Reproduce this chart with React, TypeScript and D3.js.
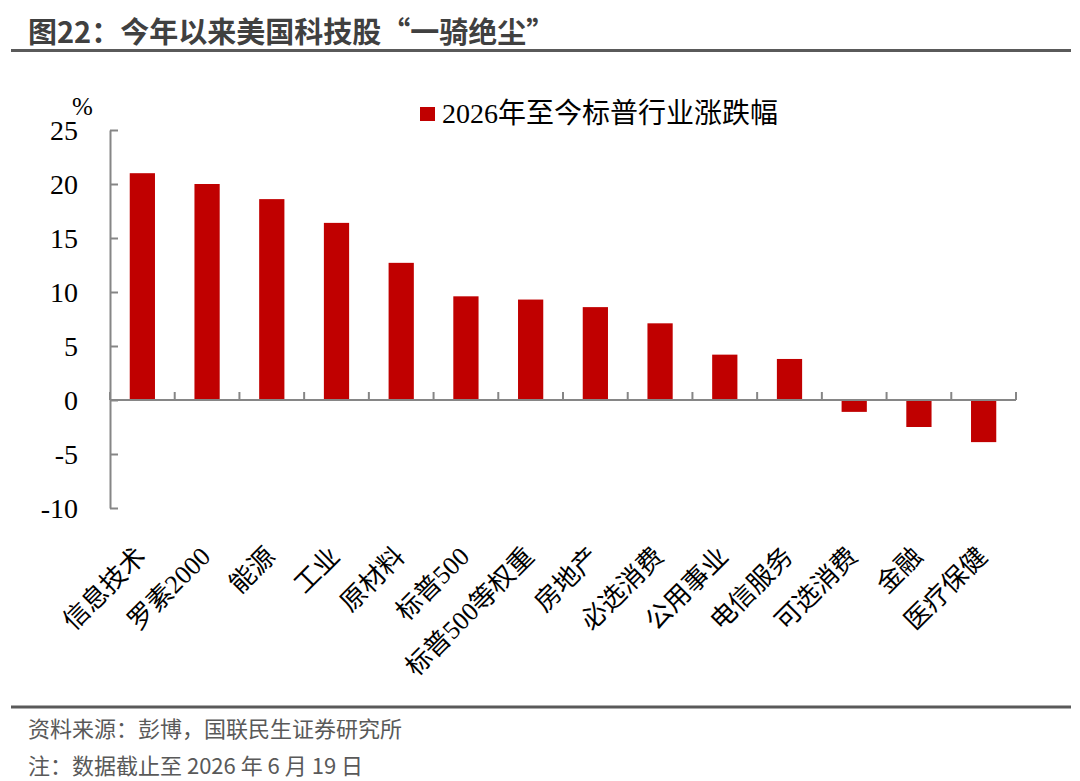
import { useEffect, useRef } from 'react';
import * as d3 from 'd3';

const categories = [
  '信息技术', '罗素2000', '能源', '工业', '原材料', '标普500', '标普500等权重',
  '房地产', '必选消费', '公用事业', '电信服务', '可选消费', '金融', '医疗保健',
];
const values = [21.0, 20.0, 18.6, 16.4, 12.7, 9.6, 9.3, 8.6, 7.1, 4.2, 3.8, -1.1, -2.5, -3.9];
const yTicks = [25, 20, 15, 10, 5, 0, -5, -10];
const seriesName = '2026年至今标普行业涨跌幅';
const unitLabel = '%';
const titleText = '图22：今年以来美国科技股“一骑绝尘”';
const sourceText = '资料来源：彭博，国联民生证券研究所';
const noteText = '注：数据截止至 2026 年 6 月 19 日';

const WIDTH = 1080;
const HEIGHT = 781;
const BAR_COLOR = '#c00000';
const AXIS_COLOR = '#868686';
const SERIF = "'Times New Roman', 'Liberation Serif', 'Noto Sans CJK SC', serif";
const SANS = "'Microsoft YaHei', 'Noto Sans CJK SC', sans-serif";

export default function App() {
  const svgRef = useRef<SVGSVGElement>(null);

  useEffect(() => {
    if (!svgRef.current) return;
    const svg = d3.select(svgRef.current);
    svg.selectAll('*').remove();

    const x = d3.scaleBand<string>()
      .domain(categories)
      .range([110, 1016])
      .paddingInner(0.61)
      .paddingOuter(0.305);

    const y = d3.scaleLinear().domain([-10, 25]).range([508, 130]);

    // header
    svg.append('text')
      .attr('x', 28)
      .attr('y', 43)
      .attr('font-family', SANS)
      .attr('font-weight', 'bold')
      .attr('font-size', 29)
      .attr('fill', '#404040')
      .text(titleText);

    svg.append('line')
      .attr('x1', 11).attr('x2', 1071)
      .attr('y1', 50.5).attr('y2', 50.5)
      .attr('stroke', '#5a5a5a')
      .attr('stroke-width', 3);

    // bars
    svg.append('g')
      .selectAll('rect')
      .data(values)
      .enter()
      .append('rect')
      .attr('x', (_, i) => x(categories[i])!)
      .attr('width', x.bandwidth())
      .attr('y', d => y(Math.max(0, d)))
      .attr('height', d => Math.abs(y(d) - y(0)))
      .attr('fill', BAR_COLOR);

    // y axis, ticks pointing inward
    const yAxis = d3.axisLeft(y)
      .tickValues(yTicks)
      .tickSizeInner(-8)
      .tickSizeOuter(0)
      .tickPadding(32)
      .tickFormat(d => String(d));

    const yg = svg.append('g')
      .attr('transform', 'translate(110,0)')
      .call(yAxis);
    yg.select('.domain').attr('stroke', AXIS_COLOR).attr('stroke-width', 2);
    yg.selectAll('.tick line').attr('stroke', AXIS_COLOR).attr('stroke-width', 2);
    yg.selectAll('.tick text')
      .attr('font-family', SERIF)
      .attr('font-size', 28)
      .attr('fill', '#000')
      .attr('dy', 9.5);

    svg.append('text')
      .attr('x', 72)
      .attr('y', 115)
      .attr('font-family', SERIF)
      .attr('font-size', 25)
      .text(unitLabel);

    // x axis at zero with boundary ticks
    const zeroY = y(0);
    const step = x.step();
    const boundaries = d3.range(categories.length + 1).map(i =>
      x(categories[0])! + x.bandwidth() / 2 - step / 2 + i * step);

    svg.append('line')
      .attr('x1', 110).attr('x2', boundaries[boundaries.length - 1])
      .attr('y1', zeroY).attr('y2', zeroY)
      .attr('stroke', AXIS_COLOR)
      .attr('stroke-width', 2);

    svg.append('g')
      .selectAll('line')
      .data(boundaries)
      .enter()
      .append('line')
      .attr('x1', d => d).attr('x2', d => d)
      .attr('y1', zeroY).attr('y2', zeroY - 8)
      .attr('stroke', AXIS_COLOR)
      .attr('stroke-width', 2);

    // rotated category labels
    svg.append('g')
      .selectAll('text')
      .data(categories)
      .enter()
      .append('text')
      .attr('transform', d => `translate(${x(d)! + x.bandwidth() / 2 + 5},558) rotate(-45)`)
      .attr('text-anchor', 'end')
      .attr('font-family', SERIF)
      .attr('font-size', 26)
      .attr('fill', '#000')
      .text(d => d);

    // legend
    svg.append('rect')
      .attr('x', 420).attr('y', 107)
      .attr('width', 15).attr('height', 14)
      .attr('fill', BAR_COLOR);
    svg.append('text')
      .attr('x', 442)
      .attr('y', 123)
      .attr('font-family', SERIF)
      .attr('font-size', 28)
      .attr('fill', '#000')
      .text(seriesName);

    // footer
    svg.append('line')
      .attr('x1', 11).attr('x2', 1071)
      .attr('y1', 707).attr('y2', 707)
      .attr('stroke', '#5a5a5a')
      .attr('stroke-width', 3);

    svg.append('text')
      .attr('x', 28).attr('y', 737)
      .attr('font-family', SANS)
      .attr('font-size', 22)
      .attr('fill', '#595959')
      .text(sourceText);

    svg.append('text')
      .attr('x', 28).attr('y', 774)
      .attr('font-family', SANS)
      .attr('font-size', 22)
      .attr('fill', '#595959')
      .text(noteText);
  }, []);

  return (
    <svg
      ref={svgRef}
      width={WIDTH}
      height={HEIGHT}
      style={{ position: 'absolute', left: 0, top: 0, background: '#fff' }}
    />
  );
}
